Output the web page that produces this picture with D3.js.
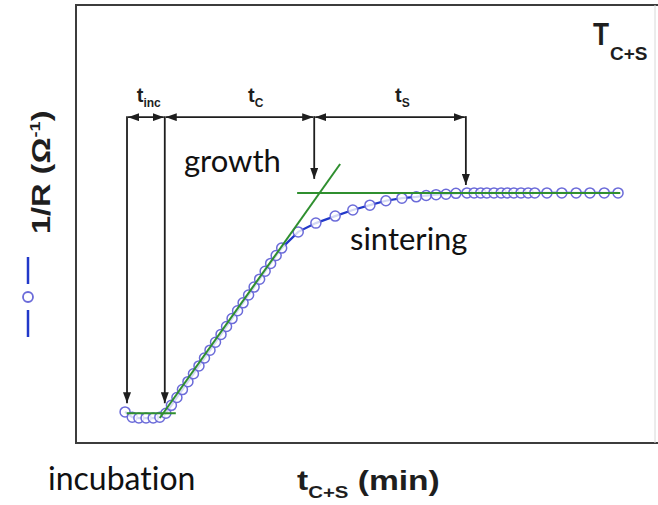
<!DOCTYPE html>
<html><head><meta charset="utf-8">
<script src="https://cdn.jsdelivr.net/npm/d3@7"></script>
<style>html,body{margin:0;padding:0;background:#fff;} svg{display:block;} text{font-variant-ligatures:none;}</style>
</head><body>
<svg id="chart" width="658" height="505"></svg>
<script>
// Conductance (1/R) versus combined coalescence + sintering time
const timeMin = [
  8.9, 10.2, 11.4, 12.7, 14.0, 15.2,
  16.3, 17.3, 18.3, 19.3, 20.3, 21.3, 22.3, 23.3, 24.3, 25.3, 26.3,
  27.3, 28.3, 29.3, 30.3, 31.3, 32.3, 33.3, 34.3, 35.3, 36.3, 37.3,
  40.3, 43.5, 47.0, 50.2, 53.3, 56.2, 59.1, 61.7, 63.5, 65.3, 67.1, 68.9, 70.9,
  72.2, 73.4, 74.5, 75.8, 77.1, 78.2, 79.4, 80.7, 82.0, 83.2,
  85.4, 88.1, 90.7, 93.2, 95.8, 98.3
];
const invR = [
  7.1, 5.9, 5.7, 5.7, 5.7, 5.9,
  6.8, 8.6, 10.4, 12.2, 14.0, 15.8, 17.6, 19.4, 21.2, 23.0, 24.8,
  26.6, 28.4, 30.2, 32.0, 33.8, 35.6, 37.4, 39.2, 41.0, 42.8, 44.5,
  48.2, 50.2, 51.8, 53.2, 54.3, 55.3, 55.9, 56.2, 56.5, 56.7, 56.8, 57.0, 57.1,
  57.1, 57.1, 57.1, 57.1, 57.1, 57.1, 57.1, 57.1, 57.1, 57.1,
  57.1, 57.1, 57.1, 57.1, 57.1, 57.1
];

// Linear fits for the three regimes
const incubationFitX = [9.2, 18.1];
const incubationFitY = [6.8, 6.8];
const growthFitX = [15.2, 47.9];
const growthFitY = [5.7, 63.7];
const sinterFitX = [40.1, 98.7];
const sinterFitY = [57.1, 57.1];

// Stage boundaries (min) and where their markers point
const stageTimes = [9.25, 16.1, 43.2, 70.7];
const stageTipValues = [9.1, 9.1, 60.3, 58.9];
const stageLevel = 74.4;
const stageSubs = ["inc", "C", "S"];
const stageLabelAt = [13.2, 32.6, 59.2];

const W = 658, H = 505;
const svg = d3.select("#chart");

const x = d3.scaleLinear().domain([0, 105]).range([76, 655]);
const y = d3.scaleLinear().domain([0, 100]).range([443, 5]);

const blueLine = "#2138c9", blueMark = "#6b6bd9", green = "#2f8f2f", ink = "#1e1e1e";

// Frame
const [x0, x1] = x.range(), [y0, y1] = y.range();
svg.append("line").attr("x1", x0).attr("x2", x0).attr("y1", y1 - 1).attr("y2", y0 + 1)
  .attr("stroke", "#3c3c3c").attr("stroke-width", 2);
svg.append("line").attr("x1", x0 - 1).attr("x2", W).attr("y1", y1).attr("y2", y1)
  .attr("stroke", "#3c3c3c").attr("stroke-width", 2);
svg.append("line").attr("x1", x0 - 1).attr("x2", W).attr("y1", y0).attr("y2", y0)
  .attr("stroke", "#3c3c3c").attr("stroke-width", 2);
svg.append("line").attr("x1", x1).attr("x2", x1).attr("y1", y1).attr("y2", y0)
  .attr("stroke", "#d8d8d8").attr("stroke-width", 1);

// Arrow marker
const defs = svg.append("defs");
defs.append("marker").attr("id", "head")
  .attr("viewBox", "0 -4 11 8").attr("refX", 11).attr("refY", 0)
  .attr("markerUnits", "userSpaceOnUse").attr("markerWidth", 11).attr("markerHeight", 8)
  .attr("orient", "auto-start-reverse")
  .append("path").attr("d", "M0,-4L11,0L0,4Z").attr("fill", ink);

// Data line + markers
const pts = timeMin.map((t, i) => [t, invR[i]]);
svg.append("path").datum(pts)
  .attr("fill", "none").attr("stroke", blueLine).attr("stroke-width", 2.2)
  .attr("d", d3.line().x(d => x(d[0])).y(d => y(d[1])));
svg.append("g").selectAll("circle").data(pts).join("circle")
  .attr("cx", d => x(d[0])).attr("cy", d => y(d[1])).attr("r", 5)
  .attr("fill", "#fff").attr("fill-opacity", 0.8)
  .attr("stroke", blueMark).attr("stroke-width", 1.5);

// Fit lines
const fits = [[incubationFitX, incubationFitY], [growthFitX, growthFitY], [sinterFitX, sinterFitY]];
svg.append("g").selectAll("line").data(fits).join("line")
  .attr("x1", d => x(d[0][0])).attr("x2", d => x(d[0][1]))
  .attr("y1", d => y(d[1][0])).attr("y2", d => y(d[1][1]))
  .attr("stroke", green).attr("stroke-width", 2);

// Stage markers: vertical drop arrows
svg.append("g").selectAll("line").data(stageTimes).join("line")
  .attr("x1", d => x(d)).attr("x2", d => x(d))
  .attr("y1", y(stageLevel) - 1).attr("y2", (d, i) => y(stageTipValues[i]))
  .attr("stroke", ink).attr("stroke-width", 1.8)
  .attr("marker-end", "url(#head)");

// Stage durations: double-headed arrows
const spans = d3.pairs(stageTimes);
svg.append("g").selectAll("line").data(spans).join("line")
  .attr("x1", d => x(d[0]) + 1).attr("x2", d => x(d[1]) - 1)
  .attr("y1", y(stageLevel)).attr("y2", y(stageLevel))
  .attr("stroke", ink).attr("stroke-width", 1.8)
  .attr("marker-start", "url(#head)").attr("marker-end", "url(#head)");

const stageText = svg.append("g").selectAll("text").data(stageSubs).join("text")
  .attr("x", (d, i) => x(stageLabelAt[i])).attr("y", y(stageLevel) - 15)
  .attr("text-anchor", "middle")
  .attr("font-family", "Liberation Sans, Arial, sans-serif").attr("font-weight", "bold")
  .attr("fill", ink);
stageText.append("tspan").attr("font-size", 20).text("t");
stageText.append("tspan").attr("font-size", 12).attr("dy", 5).text(d => d);

// Regime names
const plain = "Lato, 'Open Sans', sans-serif";
svg.append("text").attr("x", 184).attr("y", 172).attr("font-family", plain)
  .attr("font-size", 31).attr("fill", "#111").text("growth");
svg.append("text").attr("x", 350).attr("y", 250).attr("font-family", plain)
  .attr("font-size", 31).attr("fill", "#111").text("sintering");
svg.append("text").attr("x", 48).attr("y", 490).attr("font-family", plain)
  .attr("font-size", 32).attr("fill", "#111").text("incubation");

// Temperature tag
const bold = "Liberation Sans, Arial, sans-serif";
svg.append("text").attr("transform", "translate(593,45) scale(0.82,1)")
  .attr("font-family", bold).attr("font-weight", "bold").attr("font-size", 32)
  .attr("fill", ink).text("T");
svg.append("text").attr("x", 610).attr("y", 60)
  .attr("font-family", bold).attr("font-weight", "bold").attr("font-size", 19)
  .attr("fill", ink).text("C+S");

// X axis title
const xt = svg.append("text").attr("transform", "translate(297,490) scale(1.2,1)")
  .attr("font-family", bold).attr("font-weight", "bold").attr("fill", ink);
xt.append("tspan").attr("font-size", 28).text("t");
xt.append("tspan").attr("font-size", 17).attr("dy", 8).text("C+S");
xt.append("tspan").attr("font-size", 28).attr("dy", -8).text(" (min)");

// Y axis title with series key
const yt = svg.append("text").attr("transform", "translate(50,234) rotate(-90) scale(1.3,1)")
  .attr("font-family", bold).attr("font-weight", "bold").attr("fill", ink);
yt.append("tspan").attr("font-size", 25).text("1/R (\u03A9");
yt.append("tspan").attr("font-size", 14).attr("dy", -10).text("-1");
yt.append("tspan").attr("font-size", 25).attr("dy", 10).text(")");

const key = svg.append("g");
key.append("line").attr("x1", 28).attr("x2", 28).attr("y1", 257).attr("y2", 284)
  .attr("stroke", blueLine).attr("stroke-width", 2.5);
key.append("line").attr("x1", 28).attr("x2", 28).attr("y1", 310).attr("y2", 337)
  .attr("stroke", blueLine).attr("stroke-width", 2.5);
key.append("circle").attr("cx", 28).attr("cy", 297).attr("r", 5)
  .attr("fill", "#fff").attr("stroke", blueMark).attr("stroke-width", 1.8);
</script>
</body></html>
